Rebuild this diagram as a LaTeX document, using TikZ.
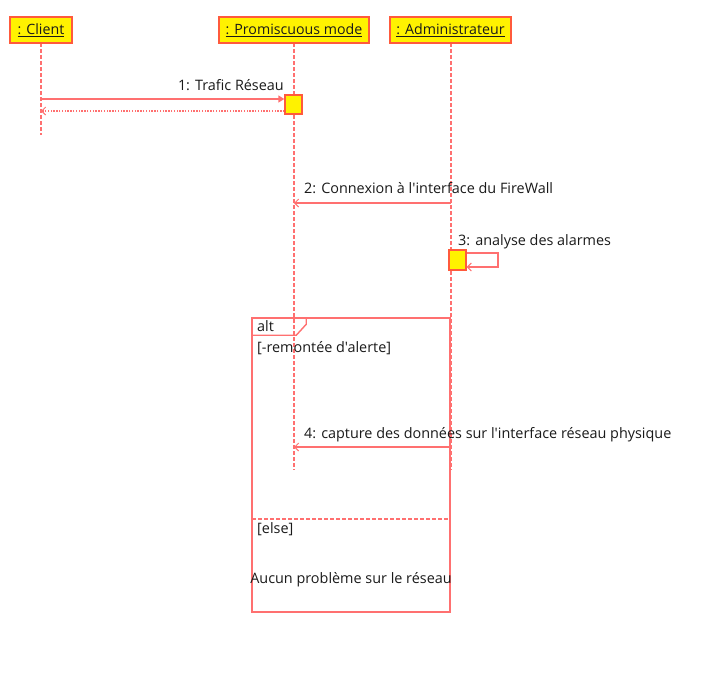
\documentclass[tikz,border=0pt]{standalone}
\usepackage{fontspec}
\newfontfamily\uifont{Open Sans}
\usetikzlibrary{arrows.meta}
\definecolor{ln}{HTML}{FF7070}
\definecolor{bx}{HTML}{FF5A3C}
\definecolor{tx}{HTML}{1A1A1A}
\tikzset{
  lifebox/.style={draw=bx, fill=yellow, line width=1.5pt, minimum height=26pt, inner xsep=4pt, text=tx, font=\uifont\fontsize{14.2}{16}\selectfont},
  life/.style={draw=ln, dashed, dash pattern=on 4pt off 2pt, line width=1.3pt},
  msg/.style={draw=ln, line width=1.4pt},
  act/.style={draw=bx, fill=yellow, line width=1.3pt},
  lbl/.style={text=tx, font=\uifont\fontsize{14.4}{16}\selectfont, inner sep=0pt},
  openhead/.style={-{Straight Barb[length=4pt,width=8pt,line width=1pt]}},
  fillhead/.style={-{Triangle[length=6pt,width=7pt]}}
}
\begin{document}
\begin{tikzpicture}[x=1pt,y=-1pt]
\useasboundingbox (0,0) rectangle (706,694);
% lifelines
\coordinate (c0) at (41,43); \coordinate (c1) at (41,135);
\coordinate (p0) at (294,43); \coordinate (p1) at (294,470);
\coordinate (a0) at (451,43); \coordinate (a1) at (451,470);
\draw[life] (c0) -- (c1);
\draw[life] (p0) -- (p1);
\draw[life] (a0) -- (a1);
% heads
\node[lifebox, minimum width=62pt] (client) at (41,30) {\underline{: Client}};
\node[lifebox, minimum width=150pt] (prom) at (294,30) {\underline{: Promiscuous mode}};
\node[lifebox, minimum width=121pt] (admin) at (450.5,30) {\underline{: Administrateur}};
% message 1
\node[act, minimum width=17pt, minimum height=19pt, inner sep=0pt] (act1) at (293.5,104.5) {};
\coordinate (m1s) at (41,99); \coordinate (m1e) at (act1.west |- m1s);
\draw[msg, fillhead] (m1s) -- (m1e);
\node[lbl, anchor=base east] (l1) at (284,90) {1: Trafic Réseau};
\coordinate (r1s) at (act1.west |- 0,111); \coordinate (r1e) at (41,111);
\draw[draw=ln, line width=1.3pt, dash pattern=on 1.3pt off 1.5pt, openhead] (r1s) -- (r1e);
% message 2
\coordinate (m2s) at (451,203); \coordinate (m2e) at (294,203);
\draw[msg, openhead] (m2s) -- (m2e);
\node[lbl, anchor=base west] (l2) at (304,193) {2: Connexion à l'interface du FireWall};
% message 3
\node[act, minimum width=17pt, minimum height=20pt, inner sep=0pt] (act3) at (457.5,260) {};
\coordinate (s3a) at (act3.east |- 0,253); \coordinate (s3b) at (498,253);
\coordinate (s3c) at (498,267); \coordinate (s3d) at (act3.east |- 0,267);
\draw[msg, openhead] (s3a) -- (s3b) -- (s3c) -- (s3d);
\node[lbl, anchor=base west] (l3) at (458,245) {3: analyse des alarmes};
% alt frame
\node[draw=ln, line width=1.5pt, minimum width=198pt, minimum height=294pt, inner sep=0pt] (frame) at (351,465) {};
\draw[msg] (frame.north west) ++(0,18) -- ++(45,0) -- ++(10,-11) -- ++(0,-7);
\node[lbl, anchor=base west] (alt) at (257,331) {alt};
\node[lbl, anchor=base west] (g1) at (257,352) {[-remontée d'alerte]};
% message 4
\coordinate (m4s) at (451,447); \coordinate (m4e) at (294,447);
\draw[msg, openhead] (m4s) -- (m4e);
\node[lbl, anchor=base west] (l4) at (304,438) {4: capture des données sur l'interface réseau physique};
% else
\coordinate (e0) at (252,519); \coordinate (e1) at (450,519);
\draw[msg, dash pattern=on 4pt off 2pt] (e0) -- (e1);
\node[lbl, anchor=base west] (g2) at (257,533) {[else]};
\node[lbl, anchor=base] (aucun) at (351,583) {Aucun problème sur le réseau};
\end{tikzpicture}
\end{document}
